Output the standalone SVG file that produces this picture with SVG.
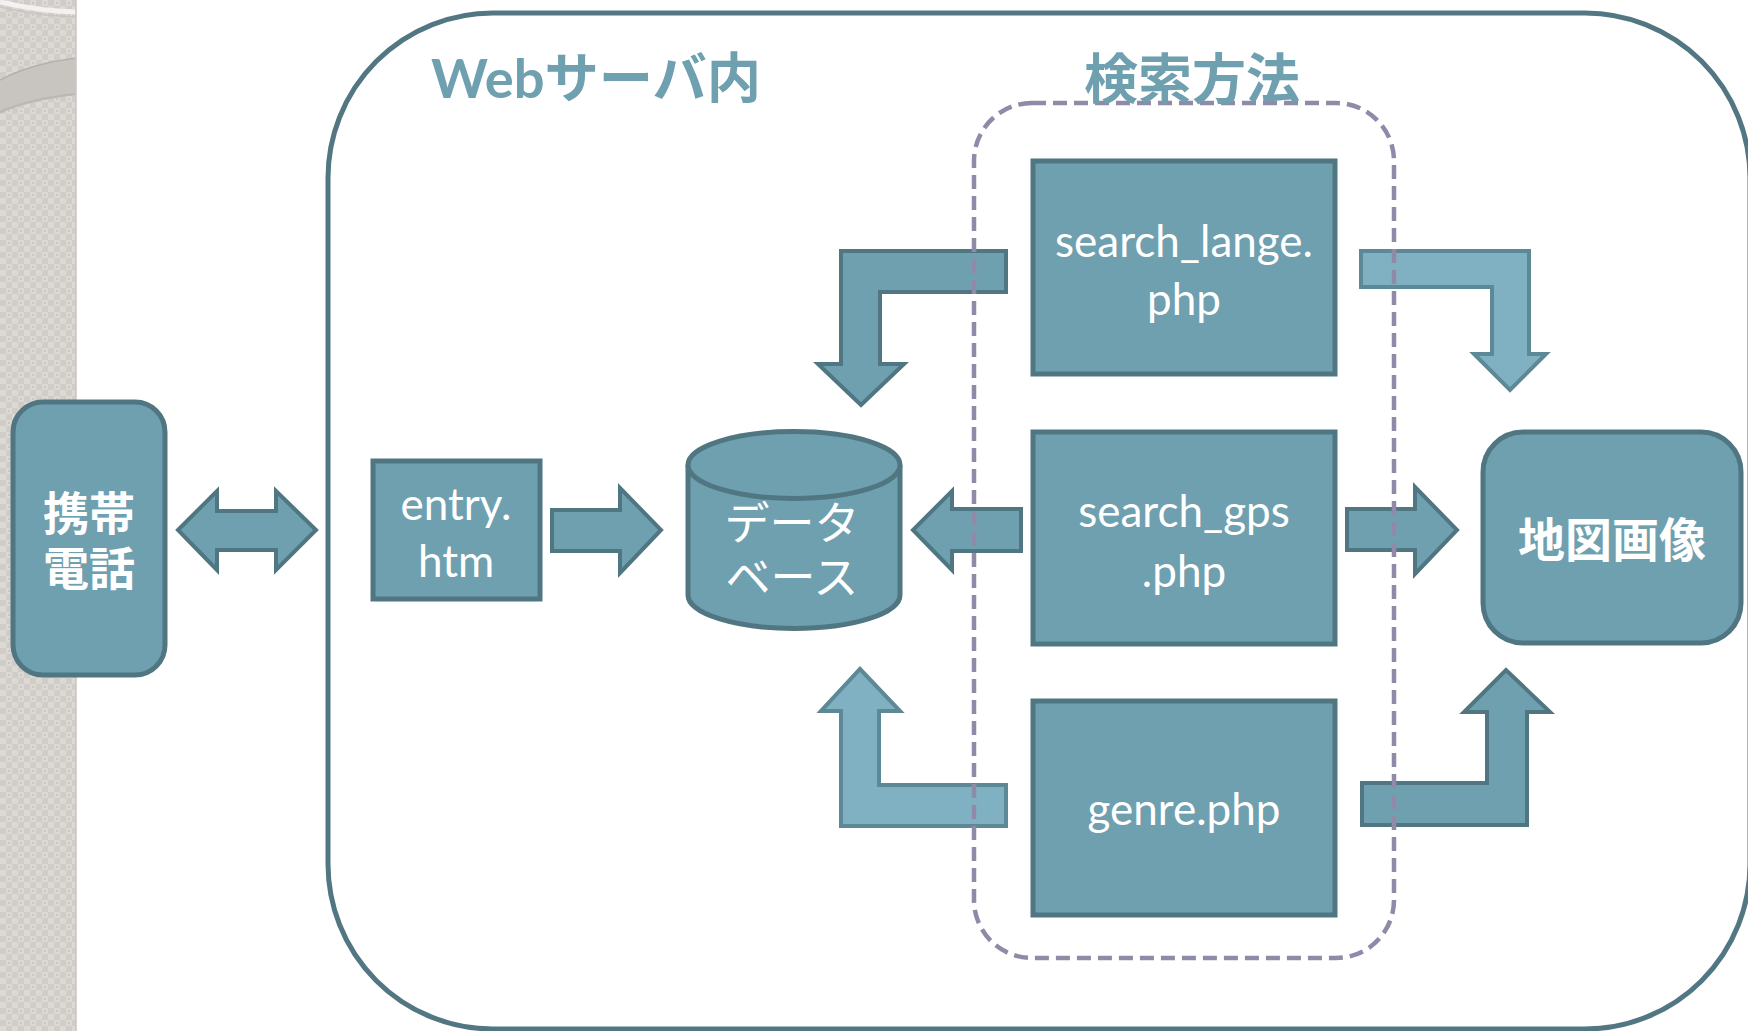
<svg xmlns="http://www.w3.org/2000/svg" width="1748" height="1031" viewBox="0 0 1748 1031">
<defs>
<pattern id="chk" x="0" y="0" width="12" height="12" patternUnits="userSpaceOnUse">
<rect width="12" height="12" fill="#dcd9d5"/>
<rect x="0" y="0" width="6" height="6" fill="#d0cdc9"/>
<rect x="6" y="6" width="6" height="6" fill="#d0cdc9"/>
<rect x="8" y="2" width="2" height="2" fill="#cbc8c4"/>
</pattern>
<style>
.box{fill:#6fa0b0;stroke:#507682;stroke-width:5}
.arr{fill:#6fa0b0;stroke:#507682;stroke-width:4;stroke-linejoin:miter}
.arrl{fill:#7fb1c2;stroke:#5d8896;stroke-width:4;stroke-linejoin:miter}
.lbl{font-family:Lato,"Noto Sans CJK JP",sans-serif;font-size:44px;fill:#ffffff;text-anchor:middle}
.jp{font-family:"Noto Sans CJK JP",sans-serif;fill:#ffffff;text-anchor:middle}
.title{font-family:Lato,"Noto Sans CJK JP",sans-serif;font-weight:bold;fill:#6fa0b0}
</style>
</defs>
<rect width="1748" height="1031" fill="#ffffff"/>
<g id="sidebar">
<rect x="0" y="0" width="76" height="1031" fill="url(#chk)"/>
<path d="M0,80 Q30,64 76,58 L76,94 Q30,99 0,112 Z" fill="#c8c5c1"/>
<path d="M0,80 Q30,64 76,58" fill="none" stroke="#b4b1ad" stroke-width="1.5"/>
<path d="M0,112 Q30,99 76,94" fill="none" stroke="#bcb9b5" stroke-width="2.5"/>
<path d="M0,2 Q38,11 76,12" fill="none" stroke="#f4f2f0" stroke-width="5"/>
<path d="M0,7 Q38,16 76,17" fill="none" stroke="#c9c6c2" stroke-width="1.5"/>
<line x1="76" y1="0" x2="76" y2="1031" stroke="#c8c5c1" stroke-width="1.5"/>
</g>
<g id="webserver">
<rect x="328" y="13" width="1422" height="1016" rx="165" ry="165" fill="none" stroke="#527783" stroke-width="5"/>
<text class="title" x="431" y="98" font-size="54" textLength="330" lengthAdjust="spacingAndGlyphs">Webサーバ内</text>
</g>
<g id="connectors">
<path class="arr" d="M178,530 L217,491 L217,511 L276,511 L276,491 L316,530 L276,570 L276,550 L217,550 L217,570 Z"/>
<path class="arr" d="M552,510 L620,510 L620,488 L661,530 L620,573 L620,551 L552,551 Z"/>
<path class="arr" d="M1021,509 L952,509 L952,491 L913,530 L952,570 L952,551 L1021,551 Z"/>
<path class="arr" d="M1347,509 L1415,509 L1415,487 L1457,530 L1415,574 L1415,550 L1347,550 Z"/>
<path class="arr" d="M1006,251 L841,251 L841,364 L818,364 L861,405 L904,364 L880,364 L880,292 L1006,292 Z"/>
<path class="arrl" d="M1361,251 L1529,251 L1529,354 L1546,354 L1510,390 L1474,354 L1492,354 L1492,287 L1361,287 Z"/>
<path class="arrl" d="M1006,785 L879,785 L879,711 L900,711 L860,669 L821,711 L841,711 L841,826 L1006,826 Z"/>
<path class="arr" d="M1362,783 L1487,783 L1487,712 L1464,712 L1506,670 L1550,712 L1527,712 L1527,825 L1362,825 Z"/>
</g>
<g id="search-methods">
<rect x="974" y="103" width="420" height="855" rx="58" ry="58" fill="none" stroke="#8f8aa8" stroke-width="4.5" stroke-dasharray="14 7"/>
<text class="title" x="1192" y="99" font-size="54" text-anchor="middle">検索方法</text>
</g>
<g id="phone">
<rect class="box" x="13" y="402" width="152" height="273" rx="30" ry="30"/>
<text class="jp" x="89" y="530" font-size="46" font-weight="bold">携帯</text>
<text class="jp" x="89" y="585" font-size="46" font-weight="bold">電話</text>
</g>
<g id="entry">
<rect class="box" x="373" y="461" width="167" height="138"/>
<text class="lbl" x="456" y="520">entry.</text>
<text class="lbl" x="456" y="577">htm</text>
</g>
<g id="database">
<path class="box" d="M688,465 L688,595 A106,33.5 0 0 0 900,595 L900,465"/>
<ellipse class="box" cx="794" cy="465" rx="106" ry="33.5"/>
<text class="jp" x="792" y="540" font-size="45">データ</text>
<text class="jp" x="792" y="594" font-size="45">ベース</text>
</g>
<g id="search-lange">
<rect class="box" x="1033" y="161" width="302" height="213"/>
<text class="lbl" x="1184" y="257">search_lange.</text>
<text class="lbl" x="1184" y="315">php</text>
</g>
<g id="search-gps">
<rect class="box" x="1033" y="432" width="302" height="212"/>
<text class="lbl" x="1184" y="527">search_gps</text>
<text class="lbl" x="1184" y="587">.php</text>
</g>
<g id="genre">
<rect class="box" x="1033" y="701" width="302" height="214"/>
<text class="lbl" x="1184" y="825">genre.php</text>
</g>
<g id="map-image">
<rect class="box" x="1483" y="432" width="258" height="211" rx="40" ry="40"/>
<text class="jp" x="1612" y="557" font-size="47" font-weight="bold">地図画像</text>
</g>
</svg>
